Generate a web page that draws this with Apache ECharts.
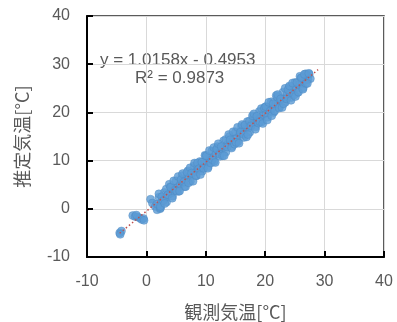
<!DOCTYPE html>
<html>
<head>
<meta charset="utf-8">
<script src="https://cdn.jsdelivr.net/npm/echarts@6/dist/echarts.min.js"></script>
<style>
html,body{margin:0;padding:0;background:#fff;}
#chart{width:397px;height:322px;}
</style>
</head>
<body>
<div id="chart"></div>
<script>
// Axis ticks
const xTicks = [-10, 0, 10, 20, 30, 40];
const yTicks = [-10, 0, 10, 20, 30, 40];
const xAxisName = '観測気温[°C]';
const yAxisName = '推定気温[°C]';
const equationText = 'y = 1.0158x - 0.4953';
const r2Text = 'R² = 0.9873';
const trendSlope = 1.0158;
const trendIntercept = -0.4953;
const trendRangeX = [-4.5, 28.9];

const observed = [
  -4.5, -4.2, -4.4,
  -2.3, -1.9, -1.5, -1.1, -0.8, -0.5, -0.4, -1.7,
  0.7, 1.0, 1.5, 1.8, 2.3,
  1.8, 2.1, 2.4, 2.6,
  3.0, 3.2, 3.4, 3.7,
  4.0, 4.2, 4.4, 4.7,
  5.0, 5.2, 5.4, 5.7,
  6.0, 6.2, 6.4, 6.7,
  7.0, 7.2, 7.4, 7.7,
  8.0, 8.2, 8.4, 8.7,
  9.0, 9.2, 9.4, 9.7,
  10.0, 10.2, 10.4, 10.7,
  11.0, 11.2, 11.4, 11.7,
  12.0, 12.2, 12.4, 12.7,
  13.0, 13.2, 13.4, 13.7,
  14.0, 14.2, 14.4, 14.7,
  15.0, 15.2, 15.4, 15.7,
  16.0, 16.2, 16.4, 16.7,
  17.0, 17.2, 17.4, 17.7,
  18.0, 18.2, 18.4, 18.7,
  19.0, 19.2, 19.4, 19.7,
  20.0, 20.2, 20.4, 20.7,
  21.0, 21.2, 21.4, 21.7,
  22.0, 22.2, 22.4, 22.7,
  23.0, 23.2, 23.4, 23.7,
  24.0, 24.2, 24.4, 24.7,
  25.0, 25.2, 25.4, 25.7,
  26.0, 26.2, 26.4, 26.7,
  27.0, 27.2, 27.4, 27.6, 26.8,
  2.1, 2.35, 2.6, 2.85,
  3.1, 3.35, 3.6, 3.85,
  4.1, 4.35, 4.6, 4.85,
  5.1, 5.35, 5.6, 5.85,
  6.1, 6.35, 6.6, 6.85,
  7.1, 7.35, 7.6, 7.85,
  8.1, 8.35, 8.6, 8.85,
  9.1, 9.35, 9.6, 9.85,
  10.1, 10.35, 10.6, 10.85,
  11.1, 11.35, 11.6, 11.85,
  12.1, 12.35, 12.6, 12.85,
  13.1, 13.35, 13.6, 13.85,
  14.1, 14.35, 14.6, 14.85,
  15.1, 15.35, 15.6, 15.85,
  16.1, 16.35, 16.6, 16.85,
  17.1, 17.35, 17.6, 17.85,
  18.1, 18.35, 18.6, 18.85,
  19.1, 19.35, 19.6, 19.85,
  20.1, 20.35, 20.6, 20.85,
  21.1, 21.35, 21.6, 21.85,
  22.1, 22.35, 22.6, 22.85,
  23.1, 23.35, 23.6, 23.85,
  24.1, 24.35, 24.6, 24.85,
  25.1, 25.35, 25.6, 25.85,
  26.1, 26.35, 26.6, 26.85,
  27.1, 27.35
];
const estimated = [
  -5.0, -4.6, -5.3,
  -1.4, -1.6, -1.7, -1.9, -2.2, -2.0, -2.4, -1.3,
  2.0, 1.2, 0.5, -0.2, 0.0,
  1.0, 2.4, 0.2, 1.6,
  3.4, 2.2, 1.4, 3.0,
  4.6, 3.3, 2.6, 4.3,
  5.8, 4.4, 3.6, 5.1,
  6.9, 5.4, 4.6, 6.3,
  7.9, 6.5, 5.7, 7.4,
  8.9, 7.6, 6.8, 8.3,
  9.8, 8.5, 7.8, 9.4,
  11.0, 9.6, 8.7, 10.4,
  12.0, 10.6, 9.8, 11.5,
  12.9, 11.6, 10.9, 12.5,
  14.1, 12.7, 11.8, 13.4,
  15.0, 13.8, 12.9, 14.5,
  16.0, 14.6, 13.9, 15.6,
  17.1, 15.7, 14.8, 16.6,
  18.1, 16.8, 15.9, 17.6,
  19.1, 17.8, 17.0, 18.7,
  20.2, 18.8, 18.0, 19.6,
  21.1, 19.8, 19.0, 20.8,
  22.2, 20.9, 20.0, 21.7,
  23.2, 21.9, 21.1, 22.8,
  24.2, 22.9, 22.1, 23.8,
  25.2, 23.9, 23.1, 24.8,
  26.2, 25.0, 24.1, 25.8,
  27.1, 25.9, 25.1, 26.7,
  27.8, 26.8, 27.9, 27.0, 28.0,
  3.1, 0.5, 2.5, 1.7,
  1.1, 4.1, 2.9, 5.1,
  4.5, 2.2, 5.8, 3.9,
  3.7, 6.7, 3.7, 6.1,
  7.3, 5.6, 4.6, 7.6,
  5.4, 8.5, 7.4, 5.7,
  9.5, 6.9, 9.5, 8.3,
  7.1, 9.7, 8.4, 11.1,
  11.0, 8.4, 12.1, 9.5,
  10.2, 12.7, 9.6, 12.4,
  13.5, 11.3, 12.9, 11.0,
  11.0, 14.4, 12.8, 15.4,
  14.3, 12.6, 16.0, 13.4,
  13.8, 16.9, 13.6, 15.9,
  17.5, 15.4, 17.4, 14.9,
  15.4, 18.2, 17.2, 19.3,
  19.7, 16.5, 19.2, 17.8,
  18.1, 20.8, 17.7, 20.9,
  21.2, 18.4, 22.1, 20.3,
  19.3, 21.8, 20.3, 23.5,
  23.7, 20.9, 22.8, 21.0,
  21.8, 25.0, 22.8, 24.7,
  25.5, 22.5, 26.1, 23.6,
  23.3, 26.2, 24.2, 27.5,
  27.2, 24.8, 27.9, 26.0,
  26.0, 28.1
];

const scatterData = observed.map((x, i) => [x, estimated[i]]);
const trendData = trendRangeX.map(x => [x, trendSlope * x + trendIntercept]);

const chart = echarts.init(document.getElementById('chart'), null, {renderer: 'canvas'});
const labelColor = '#595959';
const numFont = "'Liberation Sans', 'Noto Sans CJK JP', sans-serif";
const cjkFont = "'Noto Sans CJK JP', sans-serif";

function axisCommon(name, ticks) {
  return {
    type: 'value',
    min: ticks[0],
    max: ticks[ticks.length - 1],
    interval: ticks[1] - ticks[0],
    name: name,
    nameLocation: 'middle',
    nameTextStyle: {color: labelColor, fontSize: 18, fontFamily: cjkFont},
    axisLine: {show: true, onZero: false, lineStyle: {color: '#000', width: 2}},
    axisTick: {show: true, inside: true, length: 6, lineStyle: {color: '#000', width: 2}},
    axisLabel: {color: labelColor, fontSize: 16, fontFamily: numFont, margin: 17},
    splitLine: {show: true, lineStyle: {color: '#d9d9d9', width: 1}}
  };
}

const xAxis = axisCommon(xAxisName, xTicks);
xAxis.nameGap = 46;
const yAxis = axisCommon(yAxisName, yTicks);
yAxis.nameGap = 56;
yAxis.nameRotate = 90;

chart.setOption({
  animation: false,
  backgroundColor: '#fff',
  grid: {
    left: 87, right: 13, top: 16, bottom: 65,
    containLabel: false,
    outerBoundsMode: 'none',
    show: true,
    borderColor: '#262626',
    borderWidth: 1.5
  },
  xAxis: xAxis,
  yAxis: yAxis,
  graphic: [
    {type: 'text', left: 100, top: 52, style: {text: equationText, fill: labelColor, fontSize: 17, fontFamily: numFont}},
    {type: 'text', left: 135, top: 70, style: {text: r2Text, fill: labelColor, fontSize: 17, fontFamily: numFont}}
  ],
  series: [
    {
      type: 'scatter',
      data: scatterData,
      symbol: 'circle',
      symbolSize: 8,
      itemStyle: {color: '#5B9BD5', borderColor: '#4A86C0', borderWidth: 0.5},
      z: 2
    },
    {
      type: 'line',
      data: trendData,
      showSymbol: false,
      symbol: 'none',
      lineStyle: {color: '#C0504D', width: 1.5, type: [1.5, 2.5]},
      z: 3
    }
  ]
});
</script>
</body>
</html>
